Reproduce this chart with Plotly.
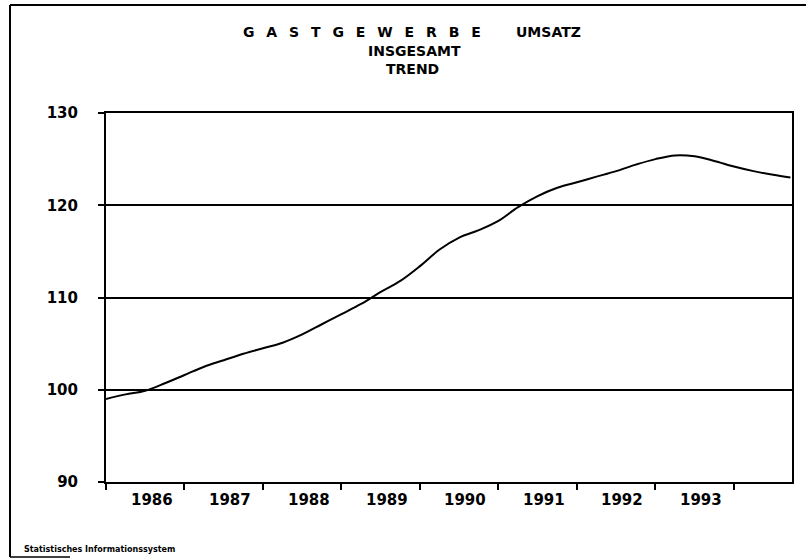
import plotly.graph_objects as go

# Data: quarterly trend values (x in decimal years)
periods = [1986.00, 1986.25, 1986.50, 1986.75, 1987.00, 1987.25, 1987.50, 1987.75,
           1988.00, 1988.25, 1988.50, 1988.75, 1989.00, 1989.25, 1989.50, 1989.75,
           1990.00, 1990.25, 1990.50, 1990.75, 1991.00, 1991.25, 1991.50, 1991.75,
           1992.00, 1992.25, 1992.50, 1992.75, 1993.00, 1993.25, 1993.50, 1993.75,
           1994.00, 1994.25, 1994.50, 1994.72]
trend = [99.0, 99.5, 99.9, 100.7, 101.6, 102.5, 103.2, 103.9,
         104.5, 105.1, 106.0, 107.1, 108.2, 109.3, 110.6, 111.8,
         113.4, 115.2, 116.5, 117.3, 118.3, 119.8, 121.0, 121.9,
         122.5, 123.1, 123.7, 124.4, 125.0, 125.4, 125.3, 124.8,
         124.2, 123.7, 123.3, 123.0]

year_labels = ["1986", "1987", "1988", "1989", "1990", "1991", "1992", "1993"]
year_ticks = [1986, 1987, 1988, 1989, 1990, 1991, 1992, 1993, 1994]
y_ticks = [90, 100, 110, 120, 130]

FONT = "DejaVu Sans"
W, H = 806, 560
L, R, T, B = 106, 792, 113, 482


def px(x):
    return (x - L) / (R - L)


def py(y):
    return (B - y) / (B - T)


fig = go.Figure()
fig.add_trace(go.Scatter(x=periods, y=trend, mode="lines",
                         line=dict(color="black", width=2, shape="spline"),
                         hoverinfo="skip", showlegend=False))

fig.update_layout(
    width=W, height=H,
    margin=dict(l=L, r=W - R, t=T, b=H - B),
    paper_bgcolor="white", plot_bgcolor="white",
    showlegend=False,
    font=dict(family=FONT, color="black"),
    xaxis=dict(range=[1986, 1994.74], tickvals=year_ticks, showticklabels=False,
               ticks="outside", ticklen=6, tickwidth=1.5, tickcolor="black",
               showgrid=False, zeroline=False, showline=True, linecolor="black",
               linewidth=2, mirror=True),
    yaxis=dict(range=[90, 130], tickvals=y_ticks, ticks="outside", ticklen=6,
               tickwidth=1.5, tickcolor="black", showgrid=True, gridcolor="black",
               gridwidth=1.5, zeroline=False, showline=True, linecolor="black",
               linewidth=2, mirror=True, ticklabelstandoff=17,
               tickfont=dict(family=FONT, size=15, color="black", weight="bold")),
)

annotations = []
for i, lab in enumerate(year_labels):
    annotations.append(dict(x=year_ticks[i] + 0.58, y=py(500), xref="x", yref="paper",
                            text=lab, showarrow=False, xanchor="center", yanchor="middle",
                            font=dict(family=FONT, size=15, color="black", weight="bold")))

sp = "\u2002\u00a0"
title1 = sp.join(list("GASTGEWERBE"))
tf = dict(family=FONT, size=14, color="black", weight="bold")
annotations += [
    dict(x=px(361.5), y=py(32.5), xref="paper", yref="paper", text=title1,
         showarrow=False, xanchor="center", yanchor="middle", font=tf),
    dict(x=px(548.5), y=py(32.5), xref="paper", yref="paper", text="UMSATZ",
         showarrow=False, xanchor="center", yanchor="middle", font=tf),
    dict(x=px(414), y=py(51), xref="paper", yref="paper", text="INSGESAMT",
         showarrow=False, xanchor="center", yanchor="middle", font=tf),
    dict(x=px(412.5), y=py(68.5), xref="paper", yref="paper", text="TREND",
         showarrow=False, xanchor="center", yanchor="middle", font=tf),
    dict(x=px(22), y=py(549), xref="paper", yref="paper",
         text="Statistisches Informationssystem", showarrow=False,
         xanchor="left", yanchor="middle",
         font=dict(family=FONT, size=8, color="black", weight="bold")),
]
fig.update_layout(annotations=annotations)

# outer page frame
shapes = [
    dict(type="line", xref="paper", yref="paper", x0=px(10), x1=px(806), y0=py(5), y1=py(5),
         line=dict(color="black", width=2)),
    dict(type="line", xref="paper", yref="paper", x0=px(10), x1=px(10), y0=py(5), y1=py(557),
         line=dict(color="black", width=2)),
    dict(type="line", xref="paper", yref="paper", x0=px(10), x1=px(70), y0=py(557), y1=py(557),
         line=dict(color="black", width=1.5)),
]
fig.update_layout(shapes=shapes)

fig.write_html("out.html", config={"displayModeBar": False},
               post_script="document.body.style.margin='0';")
